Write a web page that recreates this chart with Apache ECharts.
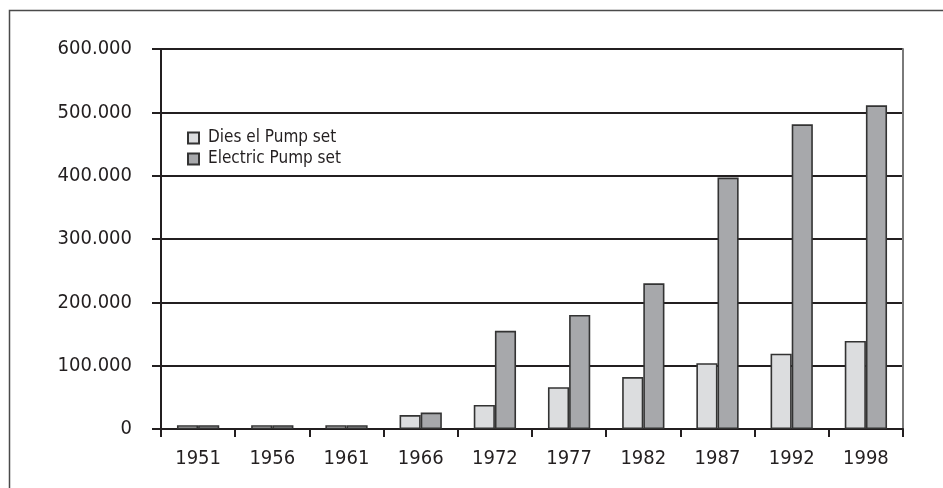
<!DOCTYPE html>
<html>
<head>
<meta charset="utf-8">
<script src="https://cdn.jsdelivr.net/npm/echarts@6/dist/echarts.min.js"></script>
<style>
html,body{margin:0;padding:0;background:#fff;}
#c{width:943px;height:488px;}
</style>
</head>
<body>
<div id="c"></div>
<script>
const categories = ['1951','1956','1961','1966','1972','1977','1982','1987','1992','1998'];
const dieselValues = [6000, 6000, 6000, 22000, 38000, 66000, 82000, 104000, 119000, 139000];
const electricValues = [6000, 6000, 6000, 26000, 155000, 180000, 230000, 397000, 481000, 511000];
const seriesNames = ['Dies el Pump set', 'Electric Pump set'];
const yTicks = [0, 100000, 200000, 300000, 400000, 500000, 600000];

const FONT = '"Liberation Sans Narrow", "Arial Narrow", "DejaVu Sans Condensed", "Liberation Sans", sans-serif';
const chart = echarts.init(document.getElementById('c'), null, {renderer: 'canvas'});

function fmt(v) {
  if (v === 0) return '0';
  return (v / 1000) + '.000';
}

chart.setOption({
  animation: false,
  backgroundColor: '#fff',
  graphic: [{
    type: 'rect',
    shape: {x: 9.5, y: 10.5, width: 960, height: 520},
    style: {fill: 'none', stroke: '#4a4a4a', lineWidth: 1.5},
    z: 0
  }],
  grid: {left: 161, right: 40, top: 49, bottom: 59, containLabel: false},
  legend: {
    orient: 'vertical',
    left: 182,
    top: 124,
    itemWidth: 11,
    itemHeight: 11,
    itemGap: 3,
    icon: 'rect',
    textStyle: {fontFamily: FONT, fontSize: 17, color: '#231f20', lineHeight: 18, padding: [0, 0, 0, 4]},
    data: seriesNames
  },
  xAxis: {
    type: 'category',
    data: categories,
    boundaryGap: true,
    axisLine: {show: true, lineStyle: {color: '#231f20', width: 2}},
    axisTick: {show: true, length: 8, inside: false, lineStyle: {color: '#231f20', width: 2}},
    axisLabel: {fontFamily: FONT, fontSize: 20, color: '#231f20', margin: 20},
    splitLine: {show: false}
  },
  yAxis: [{
    type: 'value',
    min: 0,
    max: 600000,
    interval: 100000,
    axisLine: {show: true, lineStyle: {color: '#231f20', width: 2}},
    axisTick: {show: true, length: 9, lineStyle: {color: '#231f20', width: 2}},
    axisLabel: {fontFamily: FONT, fontSize: 20, color: '#231f20', margin: 29,
      formatter: function (v) { return yTicks.indexOf(v) >= 0 ? fmt(v) : ''; }},
    splitLine: {show: true, lineStyle: {color: '#231f20', width: 2}}
  }, {
    type: 'value',
    position: 'right',
    min: 0,
    max: 600000,
    interval: 100000,
    axisLine: {show: true, onZero: false, lineStyle: {color: '#7a7a7a', width: 2}},
    axisTick: {show: false},
    axisLabel: {show: false},
    splitLine: {show: false}
  }],
  series: [{
    name: seriesNames[0],
    type: 'bar',
    data: dieselValues,
    barGap: '0%',
    barCategoryGap: '43%',
    itemStyle: {color: '#dcdddf', borderColor: '#333333', borderWidth: 1.6},
    z: 3
  }, {
    name: seriesNames[1],
    type: 'bar',
    data: electricValues,
    barGap: '0%',
    barCategoryGap: '43%',
    itemStyle: {color: '#a7a8ab', borderColor: '#333333', borderWidth: 1.6},
    z: 3
  }]
});
</script>
</body>
</html>
